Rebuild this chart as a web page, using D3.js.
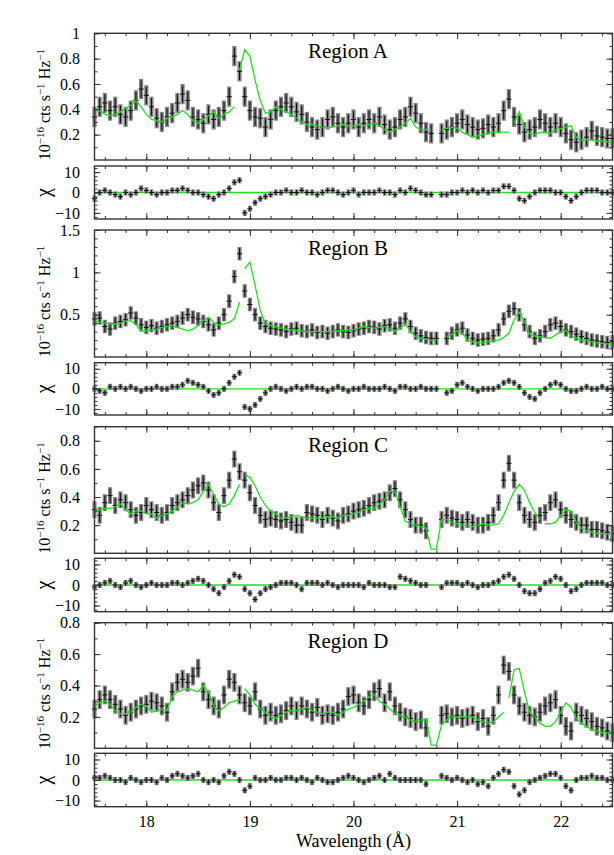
<!DOCTYPE html>
<html><head><meta charset="utf-8">
<script src="https://cdn.jsdelivr.net/npm/d3@7"></script>
<style>
body{margin:0;background:#fff}
svg{display:block}
svg text{font-family:'Liberation Serif','Times New Roman',Times,'DejaVu Serif',serif !important;fill:#000}
</style>
</head><body>
<svg id="chart" width="614" height="855" font-family="Liberation Serif, Times New Roman, DejaVu Serif, serif"></svg>
<script>
// ---------------- data ----------------
const wavelength = [
17.5,17.55,17.6,17.65,17.7,17.75,17.8,17.85,17.9,17.95,
18.0,18.05,18.1,18.15,18.2,18.25,18.3,18.35,18.4,18.45,
18.5,18.55,18.6,18.65,18.7,18.75,18.8,18.85,18.9,18.95,
19.0,19.05,19.1,19.15,19.2,19.25,19.3,19.35,19.4,19.45,
19.5,19.55,19.6,19.65,19.7,19.75,19.8,19.85,19.9,19.95,
20.0,20.05,20.1,20.15,20.2,20.25,20.3,20.35,20.4,20.45,
20.5,20.55,20.6,20.65,20.7,20.75,20.8,20.85,20.9,20.95,
21.0,21.05,21.1,21.15,21.2,21.25,21.3,21.35,21.4,21.45,
21.5,21.55,21.6,21.65,21.7,21.75,21.8,21.85,21.9,21.95,
22.0,22.05,22.1,22.15,22.2,22.25,22.3,22.35,22.4,22.45,
22.5];

const regionNames = ["Region A","Region B","Region C","Region D"];

// Region A
const fluxA = [
0.34,0.42,0.45,0.39,0.42,0.36,0.34,0.39,0.47,0.56,
0.51,0.42,0.33,0.30,0.34,0.37,0.45,0.52,0.47,0.34,
0.32,0.29,0.36,0.32,0.34,0.39,0.50,0.82,0.70,0.50,
0.39,0.34,0.33,0.26,0.32,0.39,0.42,0.45,0.42,0.38,
0.36,0.30,0.26,0.24,0.26,0.32,0.34,0.29,0.26,0.29,
0.32,0.26,0.29,0.32,0.29,0.34,0.28,0.24,0.26,0.32,
0.34,0.42,0.37,0.29,0.22,0.21,null,0.21,0.24,0.26,
0.29,0.32,0.28,0.26,0.24,0.25,0.28,0.26,0.29,0.39,
0.48,0.34,0.28,0.22,0.24,0.26,0.32,0.29,0.26,0.29,
0.26,0.21,0.16,0.14,0.16,0.18,0.23,0.19,0.18,0.17,
0.17];
const modelA = [
0.41,0.39,0.36,0.35,0.36,0.38,0.41,0.43,0.47,0.42,
0.36,0.32,0.31,0.30,0.33,0.34,0.36,0.39,0.36,0.31,
0.29,0.32,0.35,0.38,0.33,0.36,0.38,0.42,0.71,0.87,
0.82,0.63,0.47,0.37,0.38,0.42,0.40,0.38,0.36,0.33,
0.30,0.28,0.28,0.27,0.26,0.255,0.26,0.27,0.28,0.27,
0.27,0.28,0.27,0.28,0.29,0.27,0.24,0.22,0.24,0.26,
0.29,0.33,0.26,0.24,0.24,0.24,null,0.24,0.25,0.26,
0.25,0.22,0.20,0.18,0.19,0.20,0.21,0.22,0.22,0.22,
0.22,0.29,0.38,0.26,0.21,0.20,0.22,0.22,0.21,0.24,
0.25,0.26,0.27,0.18,0.16,0.16,0.16,0.15,0.15,0.145,
0.14];
const chiA = [
-3,0,1,0,-1,-2,0,-1,0,2,
1,0,-1,0,0,1,1,2,1,0,
0,-1,-2,-3,-1,0,2,5,6,-10,
-8,-5,-3,-2,-1,0,0,1,0,0,
1,0,0,-1,0,1,1,0,-1,0,
1,-1,0,0,0,1,0,0,-1,1,
0,2,1,0,-1,-1,null,-1,-1,0,
0,1,0,1,0,1,0,1,1,3,
3,1,-3,-4,-2,0,1,1,1,0,
0,-2,-4,-2,0,1,1,1,0,0,
0];
const breaksA = [18.88, 21.52];

// Region B
const fluxB = [
0.45,0.46,0.36,0.33,0.40,0.42,0.44,0.52,0.46,0.38,
0.35,0.37,0.34,0.36,0.38,0.40,0.42,0.46,0.50,0.47,
0.45,0.42,0.38,0.32,0.40,0.50,0.66,0.95,1.22,0.78,
0.62,0.50,0.40,0.36,0.34,0.33,0.32,0.30,0.33,0.34,
0.31,0.30,0.32,0.29,0.30,0.28,0.30,0.32,0.30,0.29,
0.31,0.33,0.34,0.36,0.35,0.33,0.37,0.38,0.34,0.40,
0.45,0.36,0.28,0.25,0.23,0.22,0.22,null,0.22,0.28,
0.32,0.34,0.26,0.22,0.20,0.21,0.22,0.25,0.32,0.45,
0.54,0.57,0.50,0.38,0.30,0.22,0.25,0.30,0.38,0.40,
0.36,0.32,0.30,0.27,0.24,0.22,0.20,0.19,0.18,0.17,
0.18];
const modelB = [
0.42,0.41,0.40,0.39,0.39,0.40,0.42,0.43,0.38,0.31,
0.31,0.32,0.33,0.35,0.36,0.37,0.35,0.33,0.31,0.33,
0.37,0.43,0.47,0.41,0.38,0.39,0.41,0.45,0.65,1.04,
1.12,0.85,0.55,0.39,0.37,0.36,0.34,0.33,0.32,0.31,
0.31,0.30,0.30,0.30,0.30,0.30,0.30,0.31,0.31,0.32,
0.32,0.34,0.36,0.35,0.34,0.35,0.36,0.33,0.30,0.34,
0.39,0.30,0.24,0.22,0.21,0.20,0.20,null,0.23,0.27,
0.31,0.28,0.20,0.18,0.17,0.17,0.18,0.19,0.20,0.23,
0.28,0.44,0.53,0.42,0.27,0.25,0.24,0.23,0.22,0.26,
0.30,0.32,0.25,0.22,0.20,0.19,0.18,0.17,0.16,0.155,
0.15];
const chiB = [
0,-1,-2,1,0,1,0,1,0,-1,
0,0,1,0,0,1,1,2,4,3,
2,1,-1,-3,-2,0,3,6,8,-9,
-10,-8,-5,-2,0,1,0,-1,0,1,
0,1,1,0,0,-1,0,1,0,-1,
0,0,1,0,0,0,1,0,-1,1,
1,0,0,1,0,0,0,null,-2,-1,
2,3,1,0,-1,0,0,0,1,3,
4,3,1,-2,-4,-5,-2,0,2,3,
2,0,-1,-1,0,1,0,0,1,0,
0];
const breaksB = [18.92];

// Region C
const fluxC = [
0.31,0.27,0.36,0.41,0.34,0.38,0.36,0.31,0.27,0.29,
0.34,0.31,0.29,0.27,0.29,0.34,0.36,0.38,0.41,0.45,
0.48,0.50,0.45,0.36,0.29,0.41,0.52,0.67,0.58,0.52,
0.43,0.34,0.27,0.24,0.25,0.24,0.23,0.24,0.22,0.20,
0.20,0.29,0.28,0.27,0.24,0.27,0.25,0.23,0.27,0.28,
0.30,0.31,0.32,0.34,0.36,0.37,0.38,0.43,0.46,0.38,
0.31,0.24,0.20,0.20,0.16,null,null,0.24,0.27,0.25,
0.24,0.22,0.24,0.22,0.20,0.20,0.22,0.27,0.36,0.52,
0.64,0.52,0.36,0.27,0.24,0.22,0.27,0.29,0.36,0.38,
0.31,0.27,0.24,0.22,0.20,0.20,0.17,0.17,0.16,0.15,
0.14];
const modelC = [
0.30,0.31,0.32,0.32,0.33,0.35,0.31,0.28,0.30,0.30,
0.28,0.28,0.25,0.27,0.28,0.30,0.33,0.36,0.35,0.36,
0.38,0.44,0.49,0.42,0.35,0.33,0.35,0.41,0.49,0.56,
0.54,0.48,0.40,0.34,0.30,0.28,0.25,0.25,0.26,0.27,
0.26,0.25,0.25,0.25,0.25,0.26,0.26,0.25,0.27,0.27,
0.28,0.29,0.31,0.32,0.32,0.35,0.38,0.44,0.44,0.33,
0.23,0.21,0.20,0.19,0.18,0.03,0.03,0.24,0.24,0.22,
0.21,0.20,0.20,0.19,0.20,0.21,0.20,0.20,0.21,0.27,
0.36,0.44,0.49,0.45,0.36,0.29,0.24,0.21,0.21,0.22,
0.27,0.31,0.30,0.22,0.18,0.16,0.15,0.14,0.14,0.14,
0.14];
const chiC = [
-1,0,1,2,0,-1,1,2,0,-1,
0,1,0,0,0,1,1,0,1,2,
3,2,0,-2,-4,-1,2,5,4,-2,
-4,-7,-4,-2,-1,0,1,1,1,0,
-2,1,1,1,0,1,0,-1,0,0,
0,0,-1,1,0,0,0,-1,-1,4,
3,2,1,0,0,null,null,-1,1,1,
1,0,1,0,-1,0,0,1,2,4,
5,3,0,-3,-4,-4,-2,1,2,4,
3,0,-3,-2,0,1,1,1,1,0,
0];
const breaksC = [18.92, 21.82];

// Region D
const fluxD = [
0.25,0.31,0.34,0.31,0.28,0.25,0.21,0.23,0.25,0.27,
0.28,0.30,0.29,0.27,0.23,0.36,0.42,0.44,0.42,0.46,
0.51,0.36,0.31,0.27,0.25,0.34,0.44,0.42,0.34,0.29,
0.27,0.36,0.25,0.21,0.23,0.21,0.22,0.24,0.27,0.24,
0.27,0.25,0.23,0.26,0.21,0.22,0.21,0.23,0.25,0.33,
0.34,0.29,0.27,0.31,0.36,0.38,0.29,0.36,0.27,0.23,
0.20,0.19,0.17,0.18,0.13,null,null,0.21,0.22,0.20,
0.21,0.19,0.20,0.21,0.17,0.19,0.14,0.21,0.34,0.53,
0.49,0.34,0.27,0.23,0.21,0.20,0.23,0.27,0.29,0.31,
0.21,0.14,0.11,0.23,0.21,0.19,0.17,0.14,0.13,0.11,
0.10];
const modelD = [
0.27,0.29,0.30,0.28,0.24,0.22,0.22,0.23,0.26,0.28,
0.27,0.23,0.24,0.25,0.24,0.33,0.36,0.37,0.38,0.37,
0.36,0.40,0.36,0.27,0.24,0.26,0.29,0.30,0.31,0.38,
0.34,0.28,0.25,0.23,0.20,0.19,0.21,0.23,0.24,0.24,
0.25,0.26,0.24,0.23,0.22,0.23,0.23,0.21,0.23,0.25,
0.26,0.28,0.30,0.33,0.34,0.30,0.28,0.25,0.22,0.21,
0.20,0.18,0.17,0.18,0.19,0.02,0.02,0.15,0.18,0.20,
0.20,0.20,0.20,0.20,0.18,0.17,0.16,0.17,0.20,0.23,
0.32,0.50,0.51,0.36,0.23,0.20,0.16,0.14,0.14,0.17,
0.23,0.29,0.26,0.19,0.16,0.14,0.12,0.11,0.10,0.10,
0.10];
const chiD = [
1,1,2,1,0,0,-1,1,0,-1,
0,0,-1,1,0,2,3,2,1,2,
3,0,-1,0,-1,2,4,3,0,-5,
-3,1,0,0,1,0,0,1,1,0,
1,0,-1,1,0,-1,-1,0,1,2,
1,0,-1,0,1,2,0,3,1,0,
0,0,0,0,-2,null,null,2,1,0,
1,0,-1,0,-2,-1,-3,1,3,5,
4,-3,-7,-5,-1,0,1,2,3,3,
1,-3,-5,0,1,1,2,1,1,0,
0];
const breaksD = [18.91, 21.47];

const fluxErrors = [0.08, 0.08, 0.06, 0.06];
const chiError = 1.5;
const yMaxes = [1.0, 1.5, 0.9, 0.8];
const yMajorTicks = [[0.2,0.4,0.6,0.8,1],[0.5,1,1.5],[0.2,0.4,0.6,0.8],[0.2,0.4,0.6,0.8]];
const yMajorLabels = [["0.2","0.4","0.6","0.8","1"],["0.5","1","1.5"],["0.2","0.4","0.6","0.8"],["0.2","0.4","0.6","0.8"]];
const xMajorTicks = [18,19,20,21,22];
const chiTicks = [-10,0,10];
const chiLabels = ["\u221210","0","10"];

// ---------------- layout ----------------
const FONT = "'Liberation Serif','Times New Roman',Times,'DejaVu Serif',serif";
const X0 = 94.5, X1 = 612.5;
const specTop = [33.3, 230, 426.7, 622.7];
const specBot = [160, 357, 553.3, 748.3];
const resTop  = [166, 362.7, 558.3, 753.3];
const resBot  = [219, 415, 611.7, 806.7];
const GREEN = "#1ee01e";
const GRAY = "#858585";
const binHalf = 2.6;

const svg = d3.select("#chart");
const x = d3.scaleLinear().domain([17.5, 22.5]).range([X0, X1]);
const xMinor = d3.range(17.6, 22.45, 0.2).map(v => +v.toFixed(1));

const regions = [
  {name: regionNames[0], flux: fluxA, model: modelA, chi: chiA, breaks: breaksA},
  {name: regionNames[1], flux: fluxB, model: modelB, chi: chiB, breaks: breaksB},
  {name: regionNames[2], flux: fluxC, model: modelC, chi: chiC, breaks: breaksC},
  {name: regionNames[3], flux: fluxD, model: modelD, chi: chiD, breaks: breaksD}
];

function tickStyle(a) {
  a.select(".domain").remove();
  a.selectAll("line").attr("stroke", "#333").attr("stroke-width", 1);
}

function xTicks(g, yTop, yBot) {
  g.append("g").attr("transform", `translate(0,${yBot})`)
    .call(d3.axisBottom(x).tickValues(xMinor).tickSize(-3).tickFormat("")).call(tickStyle);
  g.append("g").attr("transform", `translate(0,${yBot})`)
    .call(d3.axisBottom(x).tickValues(xMajorTicks).tickSize(-6).tickFormat("")).call(tickStyle);
  g.append("g").attr("transform", `translate(0,${yTop})`)
    .call(d3.axisTop(x).tickValues(xMinor).tickSize(-3).tickFormat("")).call(tickStyle);
  g.append("g").attr("transform", `translate(0,${yTop})`)
    .call(d3.axisTop(x).tickValues(xMajorTicks).tickSize(-6).tickFormat("")).call(tickStyle);
}

function yAxes(g, y, major, labels, minor) {
  g.append("g").attr("transform", `translate(${X0},0)`)
    .call(d3.axisLeft(y).tickValues(minor).tickSize(-3).tickFormat("")).call(tickStyle);
  g.append("g").attr("transform", `translate(${X0},0)`)
    .call(d3.axisLeft(y).tickValues(major).tickSize(-6).tickPadding(14.5)
      .tickFormat((d, i) => labels[i]))
    .call(tickStyle)
    .attr("font-family", FONT)
    .call(a => a.selectAll("text").attr("font-size", 16).attr("font-family", FONT).attr("fill", "#000"));
  g.append("g").attr("transform", `translate(${X1},0)`)
    .call(d3.axisRight(y).tickValues(minor).tickSize(-3).tickFormat("")).call(tickStyle);
  g.append("g").attr("transform", `translate(${X1},0)`)
    .call(d3.axisRight(y).tickValues(major).tickSize(-6).tickFormat("")).call(tickStyle);
}

regions.forEach((r, k) => {
  const gS = svg.append("g");
  const y = d3.scaleLinear().domain([0, yMaxes[k]]).range([specBot[k], specTop[k]]);
  const err = fluxErrors[k];
  const pts = wavelength.map((w, i) => ({w, v: r.flux[i]})).filter(d => d.v != null);

  // data: gray error band + black cross
  gS.append("g").selectAll("line").data(pts).join("line")
    .attr("x1", d => x(d.w)).attr("x2", d => x(d.w))
    .attr("y1", d => y(d.v - err)).attr("y2", d => y(d.v + err))
    .attr("stroke", GRAY).attr("stroke-width", 4.2);
  gS.append("g").selectAll("line").data(pts).join("line")
    .attr("x1", d => x(d.w)).attr("x2", d => x(d.w))
    .attr("y1", d => y(d.v - err * 0.85)).attr("y2", d => y(d.v + err * 0.85))
    .attr("stroke", "#111").attr("stroke-width", 1.1);
  gS.append("g").selectAll("line").data(pts).join("line")
    .attr("x1", d => x(d.w) - binHalf).attr("x2", d => x(d.w) + binHalf)
    .attr("y1", d => y(d.v)).attr("y2", d => y(d.v))
    .attr("stroke", "#111").attr("stroke-width", 1);

  // model
  const mpts = wavelength.map((w, i) => ({w, v: r.model[i]}))
    .concat(r.breaks.map(b => ({w: b, v: null})))
    .sort((a, b) => a.w - b.w);
  gS.append("path").datum(mpts)
    .attr("fill", "none").attr("stroke", GREEN).attr("stroke-width", 1.3)
    .attr("d", d3.line().defined(d => d.v != null).x(d => x(d.w)).y(d => y(d.v)));

  // frame + ticks
  gS.append("rect").attr("x", X0).attr("y", specTop[k])
    .attr("width", X1 - X0).attr("height", specBot[k] - specTop[k])
    .attr("fill", "none").attr("stroke", "#333").attr("stroke-width", 1.4);
  const minorY = d3.range(0.1, yMaxes[k] + 1e-6, 0.1).map(v => +v.toFixed(2));
  yAxes(gS, y, yMajorTicks[k], yMajorLabels[k], minorY);
  xTicks(gS, specTop[k], specBot[k]);

  // region label
  gS.append("text").attr("x", 348).attr("y", specTop[k] + 25)
    .attr("font-family", FONT)
    .attr("text-anchor", "middle").attr("font-size", 21).text(r.name);

  // y title
  const mid = (specTop[k] + specBot[k]) / 2 + 8;
  const t = gS.append("text").attr("transform", `translate(50,${mid}) rotate(-90)`)
    .attr("font-family", FONT)
    .attr("text-anchor", "middle").attr("font-size", 16);
  t.append("tspan").text("10");
  t.append("tspan").attr("font-size", 11).attr("dy", -6).text("\u221216");
  t.append("tspan").attr("dy", 6).text(" cts s");
  t.append("tspan").attr("font-size", 11).attr("dy", -6).text("\u22121");
  t.append("tspan").attr("dy", 6).text(" Hz");
  t.append("tspan").attr("font-size", 11).attr("dy", -6).text("\u22121");

  // ---- residual panel ----
  const gR = svg.append("g");
  const yr = d3.scaleLinear().domain([-13, 13]).range([resBot[k], resTop[k]]);
  const rpts = wavelength.map((w, i) => ({w, v: r.chi[i]})).filter(d => d.v != null);
  gR.append("line").attr("x1", X0).attr("x2", X1).attr("y1", yr(0)).attr("y2", yr(0))
    .attr("stroke", GREEN).attr("stroke-width", 1.3);
  gR.append("g").selectAll("line").data(rpts).join("line")
    .attr("x1", d => x(d.w)).attr("x2", d => x(d.w))
    .attr("y1", d => yr(d.v - chiError)).attr("y2", d => yr(d.v + chiError))
    .attr("stroke", GRAY).attr("stroke-width", 4);
  gR.append("g").selectAll("line").data(rpts).join("line")
    .attr("x1", d => x(d.w)).attr("x2", d => x(d.w))
    .attr("y1", d => yr(d.v - chiError * 0.85)).attr("y2", d => yr(d.v + chiError * 0.85))
    .attr("stroke", "#111").attr("stroke-width", 1);
  gR.append("g").selectAll("line").data(rpts).join("line")
    .attr("x1", d => x(d.w) - binHalf).attr("x2", d => x(d.w) + binHalf)
    .attr("y1", d => yr(d.v)).attr("y2", d => yr(d.v))
    .attr("stroke", "#111").attr("stroke-width", 1);
  gR.append("rect").attr("x", X0).attr("y", resTop[k])
    .attr("width", X1 - X0).attr("height", resBot[k] - resTop[k])
    .attr("fill", "none").attr("stroke", "#333").attr("stroke-width", 1.4);
  yAxes(gR, yr, chiTicks, chiLabels, d3.range(-12, 13, 2));
  xTicks(gR, resTop[k], resBot[k]);
  gR.append("text").attr("transform", `translate(44,${yr(0)}) rotate(-90)`)
    .attr("font-family", FONT)
    .attr("text-anchor", "middle").attr("dy", "0.3em").attr("font-size", 20).text("\u03C7");
});

// bottom x labels
svg.append("g").attr("transform", `translate(0,${resBot[3]})`)
  .call(d3.axisBottom(x).tickValues(xMajorTicks).tickSize(0).tickPadding(9).tickFormat(d3.format("d")))
  .call(a => a.select(".domain").remove())
  .attr("font-family", FONT)
  .call(a => a.selectAll("text").attr("font-size", 16).attr("font-family", FONT).attr("fill", "#000"));

svg.append("text").attr("x", (X0 + X1) / 2).attr("y", 847)
  .attr("font-family", FONT)
  .attr("text-anchor", "middle").attr("font-size", 18).text("Wavelength (\u00C5)");
</script>
</body></html>
